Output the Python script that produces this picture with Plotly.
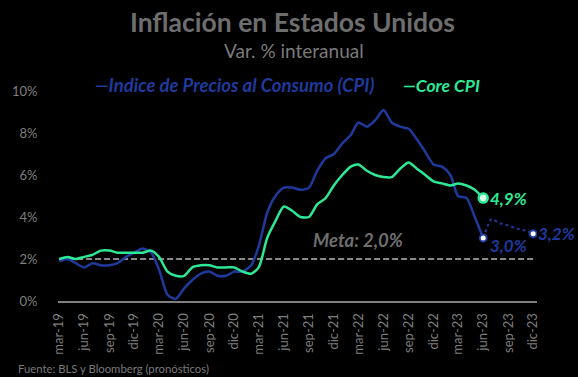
import plotly.graph_objects as go

# Monthly dates Mar-2019 .. Jun-2023
months = []
for y in range(2019, 2024):
    for m in range(1, 13):
        if (y == 2019 and m < 3) or (y == 2023 and m > 6):
            continue
        months.append(f"{y}-{m:02d}-01")

cpi = [1.9, 2.0, 1.8, 1.6, 1.8, 1.7, 1.7, 1.8, 2.1, 2.3,
       2.5, 2.3, 1.5, 0.3, 0.1, 0.6, 1.0, 1.3, 1.4, 1.2, 1.2, 1.4,
       1.4, 1.7, 2.6, 4.2, 5.0, 5.4, 5.4, 5.3, 5.4, 6.2, 6.8, 7.0,
       7.5, 7.9, 8.5, 8.3, 8.6, 9.1, 8.5, 8.3, 8.2, 7.7, 7.1, 6.5,
       6.4, 6.0, 5.0, 4.9, 4.0, 3.0]

core = [2.0, 2.1, 2.0, 2.1, 2.2, 2.4, 2.4, 2.3, 2.3, 2.3,
        2.3, 2.4, 2.1, 1.4, 1.2, 1.2, 1.6, 1.7, 1.7, 1.6, 1.6, 1.6,
        1.4, 1.3, 1.6, 3.0, 3.8, 4.5, 4.3, 4.0, 4.0, 4.6, 4.9, 5.5,
        6.0, 6.4, 6.5, 6.2, 6.0, 5.9, 5.9, 6.3, 6.6, 6.3, 6.0, 5.7,
        5.6, 5.5, 5.6, 5.5, 5.3, 4.9]

fc_months = ["2023-06-01", "2023-07-01", "2023-08-01", "2023-09-01",
             "2023-10-01", "2023-11-01", "2023-12-01"]
cpi_fc = [3.0, 3.9, 3.7, 3.6, 3.45, 3.35, 3.2]

tick_vals = []
tick_text = []
mon_names = {3: "mar", 6: "jun", 9: "sep", 12: "dic"}
for y in range(2019, 2024):
    for m in (3, 6, 9, 12):
        tick_vals.append(f"{y}-{m:02d}-01")
        tick_text.append(f"{mon_names[m]}-{str(y)[2:]}")

meta_x = ["2019-03-01", "2023-12-01"]
meta_y = [2.0, 2.0]

BLUE = "#1f3a9c"
GREEN = "#2de995"
GRAY = "#7f7f7f"
FONT = "Lato"

fig = go.Figure()

fig.add_trace(go.Scatter(x=meta_x, y=meta_y, mode="lines",
                         line=dict(color="#8a8a8a", width=2, dash="6px,3px"),
                         hoverinfo="skip"))
fig.add_trace(go.Scatter(x=fc_months, y=cpi_fc, mode="lines",
                         line=dict(color=BLUE, width=2, dash="dot", shape="spline", smoothing=0.5)))
fig.add_trace(go.Scatter(x=months, y=cpi, mode="lines",
                         line=dict(color=BLUE, width=2.5, shape="spline", smoothing=0.7)))
fig.add_trace(go.Scatter(x=months, y=core, mode="lines",
                         line=dict(color=GREEN, width=2.5, shape="spline", smoothing=0.7)))

# end markers
fig.add_trace(go.Scatter(x=[months[-1], fc_months[-1]], y=[cpi[-1], cpi_fc[-1]], mode="markers",
                         marker=dict(color="white", size=7, line=dict(color=BLUE, width=2))))
fig.add_trace(go.Scatter(x=[months[-1]], y=[core[-1]], mode="markers",
                         marker=dict(color="#d8ffe9", size=9, line=dict(color=GREEN, width=2.5))))

ann = []
ann.append(dict(text="<b>Inflación en Estados Unidos</b>", xref="paper", yref="paper",
                x=(287 - 47) / 490, y=(301 - 22) / 210, xanchor="center", yanchor="middle", showarrow=False,
                font=dict(family=FONT, size=26.5, color="#6e6e6e")))
ann.append(dict(text="Var. % interanual", xref="paper", yref="paper",
                x=(288.5 - 47) / 490, y=(301 - 50) / 210, xanchor="center", yanchor="middle", showarrow=False,
                font=dict(family=FONT, size=19, color="#7a7a7a")))
ann.append(dict(text="<b><i>—Indice de Precios al Consumo (CPI)</i></b>", xref="paper", yref="paper",
                x=(83 - 47) / 490, y=(301 - 85) / 210, xanchor="left", yanchor="middle", showarrow=False,
                font=dict(family=FONT, size=18.5, color=BLUE)))
ann.append(dict(text="<b><i>—Core CPI</i></b>", xref="paper", yref="paper",
                x=(398 - 47) / 490, y=(301 - 85) / 210, xanchor="left", yanchor="middle", showarrow=False,
                font=dict(family=FONT, size=17.5, color=GREEN)))
ann.append(dict(text="<b><i>Meta: 2,0%</i></b>", x="2022-03-01", y=2.0, yshift=19,
                xanchor="center", yanchor="middle", showarrow=False,
                font=dict(family=FONT, size=18.5, color="#6e6e6e")))
ann.append(dict(text="<b><i>4,9%</i></b>", x=months[-1], y=core[-1], xshift=5,
                xanchor="left", yanchor="middle", showarrow=False,
                font=dict(family=FONT, size=17, color=GREEN)))
ann.append(dict(text="<b><i>3,0%</i></b>", x=months[-1], y=cpi[-1], xshift=5, yshift=-7,
                xanchor="left", yanchor="middle", showarrow=False,
                font=dict(family=FONT, size=17, color=BLUE)))
ann.append(dict(text="<b><i>3,2%</i></b>", x=fc_months[-1], y=cpi_fc[-1], xshift=3,
                xanchor="left", yanchor="middle", showarrow=False,
                font=dict(family=FONT, size=17, color=BLUE)))
ann.append(dict(text="Fuente: BLS y Bloomberg (pronósticos)", xref="paper", yref="paper",
                x=(4 - 47) / 490, y=(301 - 368) / 210, xanchor="left", yanchor="middle", showarrow=False,
                font=dict(family=FONT, size=11.3, color="#7a7a7a")))

fig.update_layout(
    width=578, height=377,
    margin=dict(l=47, r=41, t=91, b=76),
    paper_bgcolor="black", plot_bgcolor="black",
    showlegend=False,
    annotations=ann,
    xaxis=dict(type="date", range=["2019-02-25", "2023-12-15"],
               tickvals=tick_vals, ticktext=tick_text, tickangle=-90,
               showgrid=False, zeroline=False, showline=True, linecolor="#808080", linewidth=2,
               ticks="outside", ticklen=5, tickcolor="rgba(0,0,0,0)",
               tickfont=dict(family=FONT, size=13, color=GRAY)),
    yaxis=dict(range=[0, 10], tickvals=[0, 2, 4, 6, 8, 10],
               ticktext=["0%", "2%", "4%", "6%", "8%", "10%"],
               showgrid=False, zeroline=False, showline=False,
               ticks="outside", ticklen=17, tickcolor="rgba(0,0,0,0)",
               tickfont=dict(family=FONT, size=13, color=GRAY)),
)

fig.write_html("out.html", config={"displayModeBar": False})

# remove the default page margin so the figure sits at the window's top-left corner
with open("out.html", "r", encoding="utf-8") as f:
    html = f.read()
html = html.replace("<head>", "<head><style>html,body{margin:0;padding:0;background:black;overflow:hidden;}</style>", 1)
with open("out.html", "w", encoding="utf-8") as f:
    f.write(html)
